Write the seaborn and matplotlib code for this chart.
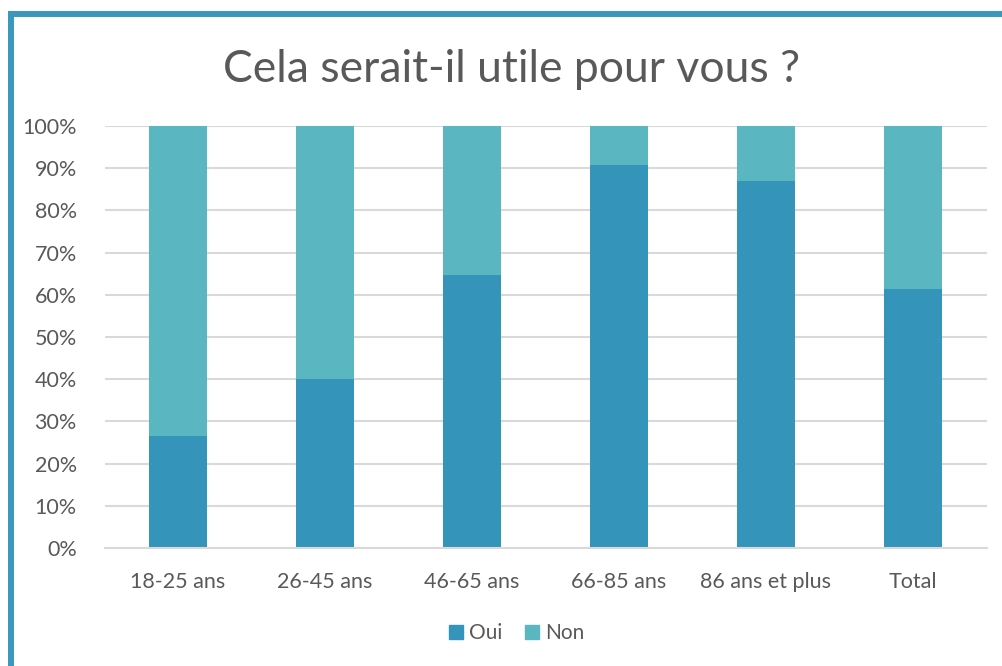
import seaborn as sns
import matplotlib.pyplot as plt
import pandas as pd
from matplotlib.lines import Line2D
from matplotlib.patches import Patch

categories = ['18-25 ans', '26-45 ans', '46-65 ans', '66-85 ans', '86 ans et plus', 'Total']
oui = [26.5, 40.0, 64.7, 90.8, 87.0, 61.4]
non = [100 - v for v in oui]

data = pd.DataFrame({'cat': categories, 'oui': oui, 'non': non})
data['total'] = data['oui'] + data['non']

c_oui = '#3594BA'
c_non = '#5AB6C0'
grey = '#595959'

sns.set_style('white')
plt.rcParams['font.family'] = ['Lato', 'DejaVu Sans']

fig = plt.figure(figsize=(10.02, 6.66), dpi=100)
ax = fig.add_axes([104.5 / 1002, 1 - 548 / 666, (986.5 - 104.5) / 1002, (548 - 126) / 666])

# stacked: full bar (Non) first, Oui drawn over it
sns.barplot(x='cat', y='total', data=data, color=c_non, width=0.4, ax=ax, saturation=1, linewidth=0)
sns.barplot(x='cat', y='oui', data=data, color=c_oui, width=0.4, ax=ax, saturation=1, linewidth=0)

ax.set_ylim(0, 100)
ax.set_xlim(-0.5, 5.5)
ax.set_yticks(range(0, 101, 10))
ax.set_yticklabels([f'{v}%' for v in range(0, 101, 10)])
ax.yaxis.grid(True, color='#D9D9D9', linewidth=1.5)
ax.set_axisbelow(True)
for s in ['top', 'right', 'left']:
    ax.spines[s].set_visible(False)
ax.spines['bottom'].set_color('#D9D9D9')
ax.spines['bottom'].set_linewidth(1.5)
ax.set_xlabel('')
ax.set_ylabel('')
ax.tick_params(axis='both', length=0, labelsize=15.5, colors=grey)
ax.tick_params(axis='y', pad=20)
ax.tick_params(axis='x', pad=17)

fig.text(512 / 1002, 1 - 70 / 666, 'Cela serait-il utile pour vous ?', ha='center', va='center',
         fontsize=32, color=grey)

handles = [Patch(color=c_oui, label='Oui'), Patch(color=c_non, label='Non')]
fig.legend(handles=handles, loc='center', bbox_to_anchor=(517 / 1002, 1 - 633 / 666), ncol=2,
           frameon=False, fontsize=15, labelcolor=grey, handlelength=0.65, handleheight=0.65,
           handletextpad=0.3, columnspacing=1.1)

# blue frame on top and left
fig.add_artist(Line2D([8 / 1002, 1], [1 - 13.5 / 666, 1 - 13.5 / 666], color='#3A98BE', linewidth=4.3,
                      transform=fig.transFigure, solid_capstyle='butt'))
fig.add_artist(Line2D([11 / 1002, 11 / 1002], [1 - 11 / 666, 0], color='#3A98BE', linewidth=4.3,
                      transform=fig.transFigure, solid_capstyle='butt'))

fig.savefig('out.png', dpi=100)
